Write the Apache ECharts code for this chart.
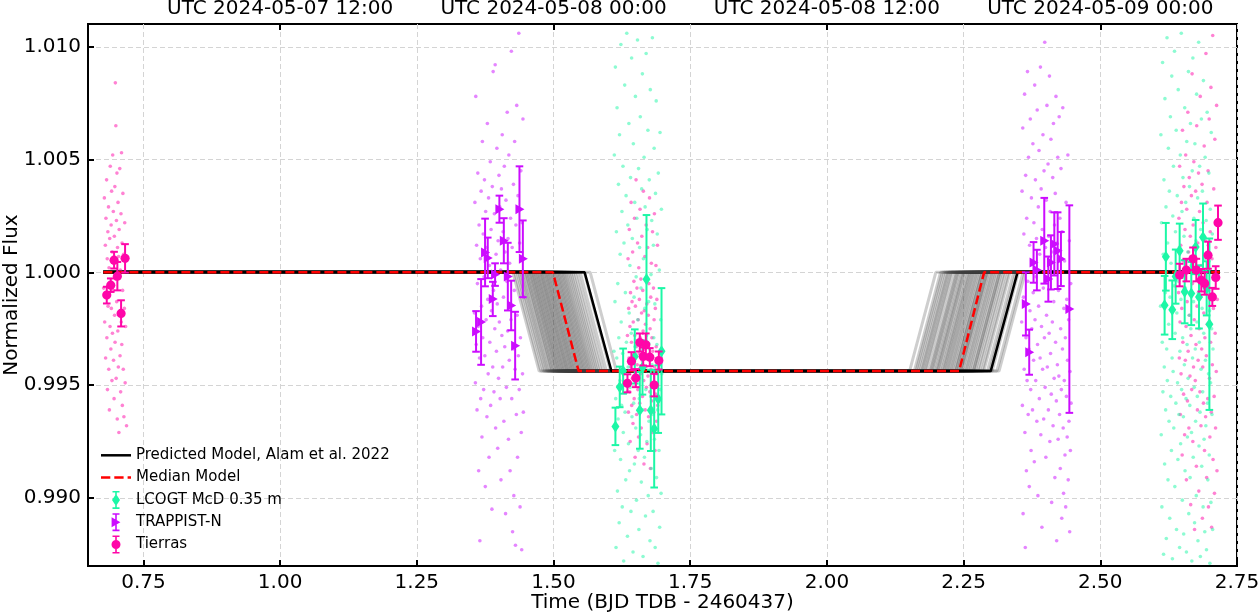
<!DOCTYPE html>
<html><head><meta charset="utf-8">
<script src="https://cdn.jsdelivr.net/npm/echarts@6/dist/echarts.min.js"></script>
<style>html,body{margin:0;padding:0;background:#fff}#c{width:1260px;height:615px}</style>
</head><body><div id="c"></div>
<script>
// ---------- axes ----------
const xMin = 0.6486, xMax = 2.75, yMin = 0.98698, yMax = 1.01101;
const xTicks = [0.75, 1.00, 1.25, 1.50, 1.75, 2.00, 2.25, 2.50, 2.75];
const yTicks = [0.990, 0.995, 1.000, 1.005, 1.010];
const topTicks = [1.0, 1.5, 2.0, 2.5];
const topLabels = ['UTC 2024-05-07 12:00', 'UTC 2024-05-08 00:00', 'UTC 2024-05-08 12:00', 'UTC 2024-05-09 00:00'];

// ---------- transit models ----------
const modelStart = 0.6767, modelEnd = 2.7185;
const outFlux = 1.0, inFlux = 0.99562;
const predictedContacts = [1.5569, 1.6059, 2.2996, 2.3486];
const medianContacts = [1.4989, 1.5459, 2.2416, 2.2875];
const edgeDuration = 0.048;
const sampleIngress = [1.4257,1.4291,1.4334,1.4362,1.4398,1.4421,1.4457,1.4483,1.4502,1.4529,1.4551,1.4576,1.4594,1.4618,1.4637,1.4659,1.4683,1.4701,1.4724,1.4746,1.4768,1.4785,1.4809,1.4831,1.4852,1.4874,1.4893,1.4917,1.4938,1.4962,1.4984,1.5007,1.5029,1.5054,1.5076,1.5098,1.5123,1.5147,1.5172,1.5196,1.5224,1.5253,1.5286,1.5317,1.5352,1.5391,1.5436,1.5488,1.5563,1.5671];
const sampleEgress = [2.1512,2.2394,2.1733,2.2868,2.1921,2.2176,2.2641,2.1598,2.2457,2.2032,2.3107,2.1815,2.2289,2.2712,2.1664,2.2543,2.1987,2.2936,2.2231,2.1869,2.2605,2.2098,2.2789,2.2352,2.1756,2.2478,2.2147,2.3021,2.2263,2.1944,2.2674,2.2061,2.2519,2.2838,2.1702,2.2416,2.2203,2.2977,2.2325,2.1893,2.2577,2.2124,2.2755,2.1631,2.2441,2.3148,2.2008,2.2686,2.2362,2.1792];

// ---------- binned data [time, flux, error] ----------
const lcogtBinned = [[1.6132,0.99317,0.00083],[1.6211,0.99492,0.0009],[1.6273,0.99562,0.0010],[1.6486,0.99627,0.0012],[1.6578,0.99388,0.0017],[1.6627,0.99578,0.0012],[1.6700,0.99969,0.00285],[1.6779,0.99388,0.0018],[1.6841,0.99306,0.0026],[1.6915,0.99438,0.0015],[1.6975,0.99650,0.0028],
  [2.6176,0.99854,0.0013],[2.6199,1.00069,0.0015],[2.6316,0.99834,0.0013],[2.6378,0.99981,0.0012],[2.6451,1.00096,0.0012],[2.6543,0.99914,0.0014],[2.6664,0.99906,0.0014],[2.6744,1.00112,0.0012],[2.6805,0.99891,0.0014],[2.6878,1.00155,0.0015],[2.6945,0.99929,0.0012],[2.6995,0.99770,0.0038]];
const trappistBinned = [[1.3583,0.99738,0.0009],[1.3675,0.99780,0.0019],[1.3748,1.00088,0.0015],[1.3797,1.00064,0.0009],[1.3889,0.99882,0.00076],[1.3931,0.99990,0.0005],[1.4010,1.00280,0.0006],[1.4091,1.00140,0.0010],[1.4164,0.99981,0.0015],[1.4225,0.99853,0.0011],[1.4298,0.99675,0.0015],[1.4377,1.00280,0.0019],[1.4439,1.00060,0.0017],
  [2.3638,0.99860,0.0014],[2.3700,0.99646,0.0010],[2.3779,1.00044,0.0009],[2.3840,1.00010,0.0009],[2.3975,1.00140,0.0019],[2.4049,0.99970,0.0010],[2.4097,1.00044,0.0012],[2.4159,1.00126,0.0014],[2.4220,1.00096,0.0017],[2.4280,1.00059,0.0012],[2.4434,0.99837,0.0046]];
const tierrasBinned = [[0.6829,0.99899,0.00037],[0.6902,0.99943,0.0003],[0.6963,1.00054,0.00037],[0.7023,0.99983,0.00063],[0.7091,0.99818,0.00058],[0.7164,1.00062,0.00063],
  [1.6352,0.99508,0.0004],[1.6425,0.99606,0.0004],[1.6505,0.99531,0.0004],[1.6578,0.99689,0.0004],[1.6640,0.99627,0.0004],[1.6688,0.99679,0.0005],[1.6761,0.99624,0.0004],[1.6841,0.99500,0.0005],[1.6926,0.99609,0.0004],
  [2.6451,0.99988,0.0005],[2.6572,1.00010,0.0005],[2.6695,1.00060,0.0005],[2.6756,1.00010,0.0005],[2.6847,0.99965,0.0005],[2.6909,0.99951,0.0005],[2.6970,1.00076,0.0006],[2.7049,0.99891,0.0004],[2.7111,0.99977,0.0005],[2.7153,1.00220,0.00076]];

// ---------- unbinned data [time, flux] ----------
const tierrasRaw = [[0.6772,0.9993],[0.6785,1.0033],[0.6791,0.9978],[0.6803,1.0012],[0.6808,0.9962],[0.6814,1.0024],[0.6822,0.9991],[0.6826,1.0041],[0.6831,0.9971],[0.6838,1.0006],[0.6842,0.9948],[0.6849,1.0018],[0.6853,0.9985],[0.6861,1.0029],[0.6866,0.9957],[0.6871,1.0002],[0.6877,0.9939],[0.6883,1.0015],[0.6889,0.9976],[0.6893,1.0047],[0.6898,0.9995],[0.6904,0.9966],[0.6909,1.0021],[0.6913,0.9984],[0.6918,1.0036],[0.6924,0.9952],[0.6929,1.0009],[0.6933,0.9973],[0.6938,1.0052],[0.6944,0.9992],[0.6949,1.0027],[0.6953,0.9961],[0.6958,1.0004],[0.6963,0.9944],[0.6968,1.0016],[0.6972,0.9981],[0.6977,1.0038],[0.6981,0.9969],[0.6986,1.0084],[0.6991,0.9997],[0.6995,1.0065],[0.7001,0.9953],[0.7006,1.0023],[0.7011,0.9987],[0.7015,1.0044],[0.7021,0.9935],[0.7026,1.0011],[0.7031,0.9974],[0.7035,1.0031],[0.7041,0.9958],[0.7046,1.0007],[0.7051,0.9929],[0.7056,1.0019],[0.7062,0.9982],[0.7067,1.0046],[0.7072,0.9963],[0.7078,1.0001],[0.7083,0.9947],[0.7089,1.0026],[0.7094,0.9978],[0.7099,1.0053],[0.7104,0.9968],[0.7109,1.0013],[0.7114,0.9941],[0.7119,0.9992],[0.7124,1.0035],[0.7131,0.9957],[0.7137,1.0008],[0.7143,0.9936],[0.7151,0.9984],[0.7158,1.0022],[0.7166,0.9951],[0.7174,0.9976],[0.7183,1.0005],[0.7191,0.9932],
  [1.6352,0.9972],[1.6358,0.9951],[1.6363,1.0006],[1.6369,0.9938],[1.6374,0.9984],[1.6380,0.9962],[1.6386,1.0019],[1.6391,0.9947],[1.6397,0.9976],[1.6402,0.9925],[1.6408,0.9991],[1.6414,0.9958],[1.6419,1.0031],[1.6425,0.9969],[1.6430,0.9941],[1.6436,0.9987],[1.6442,0.9953],[1.6447,1.0009],[1.6453,0.9933],[1.6458,0.9978],[1.6464,0.9961],[1.6470,0.9996],[1.6475,0.9944],[1.6481,1.0024],[1.6486,0.9972],[1.6492,0.9918],[1.6498,0.9985],[1.6503,0.9956],[1.6509,1.0041],[1.6514,0.9967],[1.6520,0.9937],[1.6526,0.9993],[1.6531,0.9959],[1.6537,1.0013],[1.6542,0.9948],[1.6548,0.9979],[1.6554,0.9927],[1.6559,1.0002],[1.6565,0.9964],[1.6570,0.9988],[1.6576,0.9942],[1.6582,1.0028],[1.6587,0.9971],[1.6593,0.9955],[1.6598,0.9997],[1.6604,0.9931],[1.6610,0.9982],[1.6615,1.0016],[1.6621,0.9961],[1.6626,0.9945],[1.6632,0.9992],[1.6638,0.9974],[1.6643,1.0036],[1.6649,0.9952],[1.6654,0.9915],[1.6660,0.9983],[1.6666,0.9966],[1.6671,1.0007],[1.6677,0.9939],[1.6682,0.9977],[1.6688,0.9958],[1.6694,1.0021],[1.6699,0.9949],[1.6705,0.9986],[1.6710,0.9924],[1.6716,0.9969],[1.6722,1.0011],[1.6727,0.9954],[1.6733,0.9981],[1.6738,0.9936],[1.6744,0.9995],[1.6750,0.9963],[1.6755,1.0033],[1.6761,0.9947],[1.6766,0.9975],[1.6772,0.9913],[1.6778,0.9989],[1.6783,0.9957],[1.6789,1.0004],[1.6794,0.9943],[1.6800,0.9971],[1.6806,0.9929],[1.6811,1.0018],[1.6817,0.9965],[1.6822,0.9951],[1.6828,0.9993],[1.6834,0.9938],[1.6839,0.9979],[1.6845,1.0026],[1.6850,0.9958],[1.6856,0.9921],[1.6862,0.9984],[1.6867,0.9946],[1.6873,1.0003],[1.6878,0.9967],[1.6884,0.9934],[1.6890,0.9988],[1.6895,0.9955],[1.6901,1.0012],[1.6906,0.9941],
  [2.6432,0.9991],[2.6438,1.0024],[2.6445,0.9962],[2.6451,1.0047],[2.6458,0.9978],[2.6464,0.9937],[2.6471,1.0012],[2.6477,0.9955],[2.6484,1.0031],[2.6490,0.9984],[2.6497,0.9919],[2.6503,1.0063],[2.6510,0.9969],[2.6516,1.0005],[2.6523,0.9946],[2.6529,1.0038],[2.6536,0.9993],[2.6542,0.9928],[2.6549,1.0019],[2.6555,0.9961],[2.6562,1.0052],[2.6568,0.9976],[2.6575,0.9908],[2.6581,1.0028],[2.6588,0.9987],[2.6594,0.9943],[2.6601,1.0071],[2.6607,0.9965],[2.6614,1.0009],[2.6620,0.9931],[2.6627,1.0042],[2.6633,0.9981],[2.6640,0.9954],[2.6646,1.0016],[2.6653,0.9897],[2.6659,0.9972],[2.6666,1.0034],[2.6672,0.9948],[2.6679,1.0088],[2.6685,0.9995],[2.6692,0.9925],[2.6698,1.0021],[2.6705,0.9958],[2.6711,1.0049],[2.6718,0.9979],[2.6724,0.9886],[2.6731,1.0007],[2.6737,0.9952],[2.6744,1.0036],[2.6750,0.9968],[2.6757,0.9914],[2.6763,1.0065],[2.6770,0.9985],[2.6776,0.9939],[2.6783,1.0013],[2.6789,0.9961],[2.6796,1.0044],[2.6802,0.9903],[2.6809,0.9975],[2.6815,1.0027],[2.6822,0.9947],[2.6828,1.0078],[2.6835,0.9989],[2.6841,0.9932],[2.6848,1.0003],[2.6854,0.9966],[2.6861,1.0039],[2.6867,0.9891],[2.6874,0.9958],[2.6880,1.0022],[2.6887,0.9942],[2.6893,0.9982],[2.6900,1.0056],[2.6906,0.9921],[2.6913,0.9971],[2.6919,1.0014],[2.6926,0.9936],[2.6932,1.0097],[2.6939,0.9963],[2.6945,0.9909],[2.6952,1.0031],[2.6958,0.9977],[2.6965,0.9944],[2.6971,1.0045],[2.6978,0.9896],[2.6984,0.9992],[2.6991,1.0068],[2.6997,0.9953],[2.7004,0.9927],[2.7010,1.0018],[2.7017,0.9969],[2.7023,1.0082],[2.7030,0.9938],[2.7036,0.9887],[2.7043,1.0006],[2.7049,0.9959],[2.7056,1.0105],[2.7062,0.9917],[2.7069,0.9984],[2.7075,1.0037],[2.7082,0.9945],[2.7088,0.9902],[2.7095,1.0059],[2.7101,0.9973],[2.7108,0.9931],[2.7114,1.0011],[2.7121,0.9956],[2.7127,1.0074],[2.7134,0.9912],[2.7140,0.9988]];
const trappistRaw = [[1.3555,0.9982],[1.3562,1.0031],[1.3571,0.9951],[1.3578,1.0078],[1.3586,0.9968],[1.3593,1.0012],[1.3601,0.9939],[1.3608,0.9995],[1.3615,1.0044],[1.3622,0.9976],[1.3631,0.9912],[1.3638,1.0021],[1.3646,0.9962],[1.3653,0.9881],[1.3661,1.0006],[1.3668,0.9944],[1.3676,1.0036],[1.3684,0.9985],[1.3691,0.9927],[1.3699,1.0058],[1.3706,0.9971],[1.3714,1.0017],[1.3722,0.9948],[1.3729,0.9998],[1.3737,1.0041],[1.3744,0.9963],[1.3752,0.9905],[1.3759,1.0027],[1.3767,0.9979],[1.3775,1.0011],[1.3782,0.9936],[1.3790,1.0066],[1.3797,0.9988],[1.3805,0.9955],[1.3812,1.0033],[1.3820,0.9918],[1.3827,1.0003],[1.3835,0.9969],[1.3843,1.0049],[1.3850,0.9941],[1.3858,1.0019],[1.3865,0.9983],[1.3873,0.9895],[1.3880,1.0038],[1.3888,0.9958],[1.3896,1.0089],[1.3903,0.9992],[1.3911,0.9947],[1.3918,1.0026],[1.3926,0.9975],[1.3933,1.0092],[1.3941,0.9931],[1.3949,1.0008],[1.3956,0.9965],[1.3964,1.0055],[1.3971,0.9986],[1.3979,0.9922],[1.3986,1.0014],[1.3994,0.9953],[1.4002,1.0043],[1.4009,0.9978],[1.4017,1.0029],[1.4024,0.9944],[1.4032,1.0001],[1.4039,0.9908],[1.4047,1.0037],[1.4055,0.9972],[1.4062,1.0061],[1.4070,0.9958],[1.4077,1.0018],[1.4085,0.9989],[1.4092,0.9934],[1.4100,1.0047],[1.4108,0.9967],[1.4115,1.0009],[1.4123,0.9893],[1.4130,1.0032],[1.4138,0.9949],[1.4145,0.9996],[1.4153,1.0071],[1.4161,0.9974],[1.4168,1.0015],[1.4176,0.9926],[1.4183,1.0052],[1.4191,0.9961],[1.4198,1.0004],[1.4206,0.9912],[1.4214,1.0024],[1.4221,0.9979],[1.4229,1.0098],[1.4236,0.9944],[1.4244,1.0011],[1.4251,0.9885],[1.4259,0.9966],[1.4267,1.0039],[1.4274,0.9901],[1.4282,0.9992],[1.4289,1.0058],[1.4297,0.9957],[1.4304,0.9879],[1.4312,1.0021],[1.4320,0.9937],[1.4327,1.0074],[1.4335,0.9981],[1.4342,0.9918],[1.4350,1.0034],[1.4357,0.9963],[1.4365,1.0106],[1.4373,0.9948],[1.4380,1.0013],[1.4388,0.9896],[1.4395,0.9971],[1.4403,1.0045],[1.4410,0.9929],[1.4418,0.9877],[1.4426,1.0022],[1.4433,0.9955],[1.4441,1.0068],[1.4448,0.9938],[1.4456,0.9989],
  [2.3562,0.9978],[2.3569,1.0036],[2.3575,0.9941],[2.3582,1.0064],[2.3588,0.9893],[2.3595,0.9989],[2.3602,1.0017],[2.3608,0.9957],[2.3615,1.0079],[2.3621,0.9929],[2.3628,0.9878],[2.3635,1.0043],[2.3641,0.9971],[2.3648,0.9912],[2.3654,1.0024],[2.3661,0.9952],[2.3668,1.0089],[2.3674,0.9996],[2.3681,0.9937],[2.3687,1.0051],[2.3694,0.9966],[2.3701,0.9905],[2.3707,1.0012],[2.3714,0.9983],[2.3720,1.0068],[2.3727,0.9948],[2.3734,0.9921],[2.3740,1.0033],[2.3747,0.9975],[2.3753,1.0004],[2.3760,0.9939],[2.3767,1.0057],[2.3773,0.9991],[2.3780,0.9961],[2.3786,1.0022],[2.3793,0.9916],[2.3800,1.0083],[2.3806,0.9979],[2.3813,1.0041],[2.3819,0.9952],[2.3826,0.9998],[2.3833,1.0015],[2.3839,0.9934],[2.3846,1.0072],[2.3852,0.9968],[2.3859,0.9901],[2.3866,1.0029],[2.3872,0.9985],[2.3879,1.0054],[2.3885,0.9944],[2.3892,1.0008],[2.3899,0.9962],[2.3905,1.0091],[2.3912,0.9928],[2.3918,1.0037],[2.3925,0.9976],[2.3932,0.9887],[2.3938,1.0019],[2.3945,0.9957],[2.3951,1.0061],[2.3958,0.9993],[2.3965,0.9935],[2.3971,1.0045],[2.3978,0.9971],[2.3984,1.0102],[2.3991,0.9949],[2.3998,1.0011],[2.4004,0.9918],[2.4011,1.0032],[2.4017,0.9981],[2.4024,1.0074],[2.4031,0.9958],[2.4037,0.9997],[2.4044,1.0048],[2.4050,0.9939],[2.4057,1.0016],[2.4064,0.9973],[2.4070,1.0087],[2.4077,0.9925],[2.4083,1.0027],[2.4090,0.9964],[2.4097,1.0059],[2.4103,0.9946],[2.4110,0.9898],[2.4116,1.0009],[2.4123,0.9978],[2.4130,1.0042],[2.4136,0.9932],[2.4143,1.0066],[2.4149,0.9987],[2.4156,0.9953],[2.4163,1.0021],[2.4169,0.9909],[2.4176,1.0035],[2.4182,0.9969],[2.4189,1.0078],[2.4196,0.9943],[2.4202,0.9881],[2.4209,1.0013],[2.4215,0.9959],[2.4222,1.0051],[2.4229,0.9926],[2.4235,0.9992],[2.4242,0.9954],[2.4248,1.0069],[2.4255,0.9937],[2.4262,1.0024],[2.4268,0.9913],[2.4275,0.9975],[2.4281,1.0046],[2.4288,0.9948],[2.4295,0.9891],[2.4301,1.0018],[2.4308,0.9966],[2.4314,1.0073],[2.4321,0.9931],[2.4328,0.9902],[2.4334,0.9984],[2.4341,0.9952],[2.4347,1.0005],[2.4354,0.9919],[2.4361,0.9971],[2.4367,0.9896],[2.4374,1.0031],[2.4380,0.9945],[2.4387,0.9988],[2.4394,0.9927],[2.4400,0.9961],[2.4407,1.0052],[2.4413,0.9908],[2.4420,0.9979],[2.4427,0.9934],[2.4433,1.0014],[2.4440,0.9885],[2.4446,0.9956],[2.4453,0.9921],[2.4460,0.9995],[2.4466,0.9942]];
const lcogtRaw = [[1.6105,0.9965],[1.6112,1.0052],[1.6118,0.9921],[1.6124,0.9987],[1.6131,1.0091],[1.6137,0.9944],[1.6143,0.9878],[1.6150,1.0018],[1.6156,0.9962],[1.6162,1.0073],[1.6169,0.9903],[1.6175,0.9995],[1.6181,0.9935],[1.6188,1.0039],[1.6194,0.9971],[1.6200,0.9889],[1.6207,1.0061],[1.6213,0.9952],[1.6219,1.0008],[1.6226,0.9917],[1.6232,1.0101],[1.6238,0.9978],[1.6245,0.9941],[1.6251,1.0027],[1.6257,0.9896],[1.6264,0.9964],[1.6270,1.0047],[1.6276,0.9929],[1.6283,0.9872],[1.6289,1.0013],[1.6295,0.9956],[1.6302,1.0083],[1.6308,0.9938],[1.6314,0.9991],[1.6321,0.9908],[1.6327,1.0034],[1.6333,0.9969],[1.6340,1.0106],[1.6346,0.9947],[1.6352,0.9883],[1.6359,1.0021],[1.6365,0.9958],[1.6371,0.9924],[1.6378,1.0066],[1.6384,0.9982],[1.6390,0.9912],[1.6397,1.0003],[1.6403,0.9949],[1.6409,1.0042],[1.6416,0.9894],[1.6422,0.9973],[1.6428,1.0095],[1.6435,0.9936],[1.6441,1.0015],[1.6447,0.9961],[1.6454,0.9876],[1.6460,1.0057],[1.6466,0.9942],[1.6473,0.9989],[1.6479,0.9915],[1.6485,1.0031],[1.6492,0.9967],[1.6498,1.0078],[1.6504,0.9931],[1.6511,0.9998],[1.6517,0.9899],[1.6523,1.0024],[1.6530,0.9953],[1.6536,1.0103],[1.6542,0.9979],[1.6549,0.9921],[1.6555,1.0046],[1.6561,0.9886],[1.6568,0.9944],[1.6574,1.0011],[1.6580,0.9968],[1.6587,1.0069],[1.6593,0.9928],[1.6599,0.9993],[1.6606,0.9907],[1.6612,1.0037],[1.6618,0.9957],[1.6625,1.0088],[1.6631,0.9939],[1.6637,0.9874],[1.6644,1.0006],[1.6650,0.9963],[1.6656,1.0051],[1.6663,0.9918],[1.6669,0.9984],[1.6675,1.0029],[1.6682,0.9892],[1.6688,0.9948],[1.6694,1.0097],[1.6701,0.9972],[1.6707,0.9925],[1.6713,1.0019],[1.6720,0.9956],[1.6726,1.0063],[1.6732,0.9901],[1.6739,0.9987],[1.6745,0.9934],[1.6751,1.0041],[1.6758,0.9966],[1.6764,0.9881],[1.6770,1.0081],[1.6777,0.9945],[1.6783,0.9999],[1.6789,0.9913],[1.6796,1.0023],[1.6802,0.9959],[1.6808,1.0104],[1.6815,0.9937],[1.6821,0.9894],[1.6827,1.0012],[1.6834,0.9971],[1.6840,1.0055],[1.6846,0.9926],[1.6853,0.9986],[1.6859,0.9878],[1.6865,1.0035],[1.6872,0.9951],[1.6878,1.0076],[1.6884,0.9909],[1.6891,0.9968],[1.6897,1.0017],[1.6903,0.9939],[1.6910,0.9871],[1.6916,1.0044],[1.6922,0.9962],[1.6929,0.9921],[1.6935,1.0001],[1.6941,0.9887],[1.6948,1.0062],[1.6954,0.9948],[1.6960,0.9979],[1.6967,0.9902],[1.6973,1.0028],[1.6980,0.9955],
  [2.6102,0.9985],[2.6108,1.0061],[2.6114,0.9928],[2.6120,1.0022],[2.6126,0.9896],[2.6133,0.9969],[2.6139,1.0093],[2.6145,0.9947],[2.6151,1.0008],[2.6157,0.9875],[2.6164,1.0041],[2.6170,0.9958],[2.6176,0.9915],[2.6182,1.0077],[2.6189,0.9991],[2.6195,0.9939],[2.6201,1.0029],[2.6207,0.9882],[2.6214,0.9966],[2.6220,1.0104],[2.6226,0.9952],[2.6232,1.0013],[2.6238,0.9908],[2.6245,1.0055],[2.6251,0.9977],[2.6257,0.9934],[2.6263,1.0036],[2.6270,0.9891],[2.6276,0.9989],[2.6282,1.0069],[2.6288,0.9945],[2.6294,1.0004],[2.6301,0.9921],[2.6307,1.0087],[2.6313,0.9962],[2.6319,0.9873],[2.6326,1.0025],[2.6332,0.9956],[2.6338,1.0047],[2.6344,0.9931],[2.6351,0.9994],[2.6357,1.0098],[2.6363,0.9905],[2.6369,0.9973],[2.6375,1.0018],[2.6382,0.9942],[2.6388,1.0063],[2.6394,0.9886],[2.6400,0.9982],[2.6407,1.0034],[2.6413,0.9951],[2.6419,0.9917],[2.6425,1.0081],[2.6431,0.9996],[2.6438,0.9937],[2.6444,1.0011],[2.6450,0.9878],[2.6456,0.9965],[2.6463,1.0052],[2.6469,0.9924],[2.6475,0.9988],[2.6481,1.0106],[2.6487,0.9948],[2.6494,1.0027],[2.6500,0.9899],[2.6506,0.9971],[2.6512,1.0042],[2.6519,0.9936],[2.6525,0.9884],[2.6531,1.0016],[2.6537,0.9959],[2.6544,1.0073],[2.6550,0.9912],[2.6556,0.9993],[2.6562,1.0031],[2.6568,0.9944],[2.6575,0.9876],[2.6581,1.0058],[2.6587,0.9968],[2.6593,0.9927],[2.6600,1.0009],[2.6606,0.9953],[2.6612,1.0089],[2.6618,0.9893],[2.6624,0.9981],[2.6631,1.0038],[2.6637,0.9941],[2.6643,0.9909],[2.6649,1.0066],[2.6656,0.9975],[2.6662,1.0003],[2.6668,0.9929],[2.6674,0.9872],[2.6681,1.0045],[2.6687,0.9962],[2.6693,1.0095],[2.6699,0.9918],[2.6705,0.9987],[2.6712,1.0024],[2.6718,0.9949],[2.6724,0.9889],[2.6730,1.0057],[2.6737,0.9966],[2.6743,0.9934],[2.6749,1.0014],[2.6755,0.9901],[2.6761,1.0079],[2.6768,0.9978],[2.6774,0.9945],[2.6780,1.0033],[2.6786,0.9881],[2.6793,0.9991],[2.6799,1.0102],[2.6805,0.9923],[2.6811,0.9969],[2.6817,1.0047],[2.6824,0.9938],[2.6830,0.9874],[2.6836,1.0019],[2.6842,0.9957],[2.6849,1.0068],[2.6855,0.9914],[2.6861,0.9984],[2.6867,1.0036],[2.6873,0.9947],[2.6880,0.9896],[2.6886,1.0085],[2.6892,0.9973],[2.6898,0.9926],[2.6905,1.0006],[2.6911,0.9885],[2.6917,1.0051],[2.6923,0.9961],[2.6930,0.9932],[2.6936,1.0023],[2.6942,0.9877],[2.6948,0.9995],[2.6954,1.0071],[2.6961,0.9942],[2.6967,0.9908],[2.6973,1.0012],[2.6979,0.9955],[2.6986,1.0044],[2.6992,0.9919],[2.6998,0.9983],[2.7004,0.9871],[2.7011,1.0028],[2.7017,0.9951],[2.7023,0.9898],[2.7029,1.0062],[2.7036,0.9975],[2.7042,0.9937],[2.7048,1.0017],[2.7054,0.9886],[2.7061,0.9966]];

// ---------- styling ----------
const FONT = 'DejaVu Sans';
const C_LCOGT = '#1cf7a6', C_TRAP = '#cc0cff', C_TIER = '#ff06a8';
const NAMES = ['Predicted Model, Alam et al. 2022', 'Median Model', 'LCOGT McD 0.35 m', 'TRAPPIST-N', 'Tierras'];

function modelPoints(c) {
  return [[modelStart, outFlux], [c[0], outFlux], [c[1], inFlux], [c[2], inFlux], [c[3], outFlux], [modelEnd, outFlux]];
}

function errRender(shape) {
  return function (params, api) {
    const x = api.value(0), y = api.value(1), e = api.value(2);
    const c = api.coord([x, y]), t = api.coord([x, y + e]), b = api.coord([x, y - e]);
    const col = api.visual('color');
    const ls = { stroke: col, lineWidth: 2 };
    const cw = 3.8;
    const kids = [
      { type: 'line', shape: { x1: c[0], y1: t[1], x2: c[0], y2: b[1] }, style: ls },
      { type: 'line', shape: { x1: c[0] - cw, y1: t[1], x2: c[0] + cw, y2: t[1] }, style: ls },
      { type: 'line', shape: { x1: c[0] - cw, y1: b[1], x2: c[0] + cw, y2: b[1] }, style: ls }
    ];
    if (shape === 'd') {
      kids.push({ type: 'polygon', shape: { points: [[c[0], c[1] - 6], [c[0] + 4, c[1]], [c[0], c[1] + 6], [c[0] - 4, c[1]]] }, style: { fill: col } });
    } else if (shape === 't') {
      kids.push({ type: 'polygon', shape: { points: [[c[0] - 4, c[1] - 5], [c[0] + 5, c[1]], [c[0] - 4, c[1] + 5]] }, style: { fill: col } });
    } else {
      kids.push({ type: 'circle', shape: { cx: c[0], cy: c[1], r: 4.6 }, style: { fill: col } });
    }
    return { type: 'group', children: kids };
  };
}

const series = [];
for (let k = 0; k < sampleIngress.length; k++) {
  series.push({
    type: 'line', silent: true, symbol: 'none', z: 1,
    data: modelPoints([sampleIngress[k], sampleIngress[k] + edgeDuration, sampleEgress[k], sampleEgress[k] + edgeDuration]),
    lineStyle: { color: '#3c3c3c', width: 3, opacity: 0.25 }
  });
}
const rawDefs = [[tierrasRaw, C_TIER], [trappistRaw, C_TRAP], [lcogtRaw, C_LCOGT]];
rawDefs.forEach(function (d) {
  series.push({ type: 'scatter', silent: true, data: d[0], symbolSize: 3.6, z: 2,
    itemStyle: { color: d[1], opacity: 0.5 } });
});
series.push({ name: NAMES[0], type: 'line', symbol: 'none', z: 3, data: modelPoints(predictedContacts),
  lineStyle: { color: '#000', width: 2.5 }, itemStyle: { color: '#000' } });
series.push({ name: NAMES[1], type: 'line', symbol: 'none', z: 4, data: modelPoints(medianContacts),
  lineStyle: { color: '#ff0000', width: 2.5, type: [9, 4] }, itemStyle: { color: '#ff0000' } });
[[NAMES[2], lcogtBinned, C_LCOGT, 'd'], [NAMES[3], trappistBinned, C_TRAP, 't'], [NAMES[4], tierrasBinned, C_TIER, 'c']].forEach(function (d) {
  series.push({ name: d[0], type: 'custom', z: 5, data: d[1], encode: { x: 0, y: 1 },
    itemStyle: { color: d[2] }, renderItem: errRender(d[3]) });
});

// legend icons: every icon spans a full 22px-high box (bare move-to points set the box)
const iconLine = 'path://M0,0 M30,22 M0,9.75h30v2.5h-30z';
const iconDash = 'path://M0,0 M30,22 M0,9.75h9.3v2.5h-9.3z M13.3,9.75h9.3v2.5h-9.3z M26.6,9.75h3.4v2.5h-3.4z';
const iconD = 'path://M0,0 M10,22 M4.2,2h1.6v18h-1.6z M1.5,2h7v1.6h-7z M1.5,18.4h7v1.6h-7z M5,5L9,11L5,17L1,11z';
const iconT = 'path://M0,0 M10,22 M4.2,2h1.6v18h-1.6z M1.5,2h7v1.6h-7z M1.5,18.4h7v1.6h-7z M0.6,6L9.4,11L0.6,16z';
const iconC = 'path://M0,0 M10,22 M4.2,2h1.6v18h-1.6z M1.5,2h7v1.6h-7z M1.5,18.4h7v1.6h-7z M0.5,11a4.5,4.5 0 1,1 9,0a4.5,4.5 0 1,1 -9,0z';

const axisText = { fontSize: 20, color: '#000', fontFamily: FONT };
const option = {
  animation: false,
  backgroundColor: '#fff',
  grid: { left: 88, right: 23, top: 24, bottom: 49, show: true, borderColor: '#000', borderWidth: 2, backgroundColor: 'transparent', containLabel: false, outerBoundsMode: 'none' },
  legend: {
    orient: 'vertical', left: 101, top: 444.3, padding: 0, itemWidth: 30, itemHeight: 22, itemGap: 0.3,
    selectedMode: false, itemStyle: { borderWidth: 0 },
    textStyle: { fontSize: 15, color: '#000', fontFamily: FONT },
    data: [{ name: NAMES[0], icon: iconLine }, { name: NAMES[1], icon: iconDash }, { name: NAMES[2], icon: iconD }, { name: NAMES[3], icon: iconT }, { name: NAMES[4], icon: iconC }]
  },
  xAxis: [{
    type: 'value', min: xMin, max: xMax, position: 'bottom',
    name: 'Time (BJD TDB - 2460437)', nameLocation: 'middle', nameGap: 27, nameMoveOverlap: false, nameTextStyle: axisText,
    axisLine: { show: false },
    axisTick: { show: true, inside: true, length: 6, lineStyle: { color: '#000', width: 2 }, customValues: xTicks },
    axisLabel: Object.assign({ customValues: xTicks, margin: 7, formatter: function (v) { return v.toFixed(2); } }, axisText),
    splitLine: { show: true, lineStyle: { color: '#d4d4d4', width: 1, type: [5, 3] } }
  }, {
    type: 'value', min: xMin, max: xMax, position: 'top',
    axisLine: { show: false },
    axisTick: { show: true, inside: true, length: 6, lineStyle: { color: '#000', width: 2 }, customValues: topTicks },
    axisLabel: Object.assign({ customValues: topTicks, margin: 5, formatter: function (v) {
      for (let i = 0; i < topTicks.length; i++) { if (Math.abs(topTicks[i] - v) < 1e-6) return topLabels[i]; }
      return '';
    } }, axisText),
    splitLine: { show: false }
  }],
  yAxis: [{
    type: 'value', min: yMin, max: yMax,
    name: 'Normalized Flux', nameLocation: 'middle', nameGap: 66, nameMoveOverlap: false, nameTextStyle: axisText,
    axisLine: { show: false },
    axisTick: { show: true, inside: true, length: 6, lineStyle: { color: '#000', width: 2 }, customValues: yTicks },
    axisLabel: Object.assign({ customValues: yTicks, margin: 7, formatter: function (v) { return v.toFixed(3); } }, axisText),
    splitLine: { show: true, lineStyle: { color: '#d4d4d4', width: 1, type: [5, 3] } }
  }],
  series: series
};
const chart = echarts.init(document.getElementById('c'), null, { renderer: 'canvas' });
chart.setOption(option);
</script></body></html>
